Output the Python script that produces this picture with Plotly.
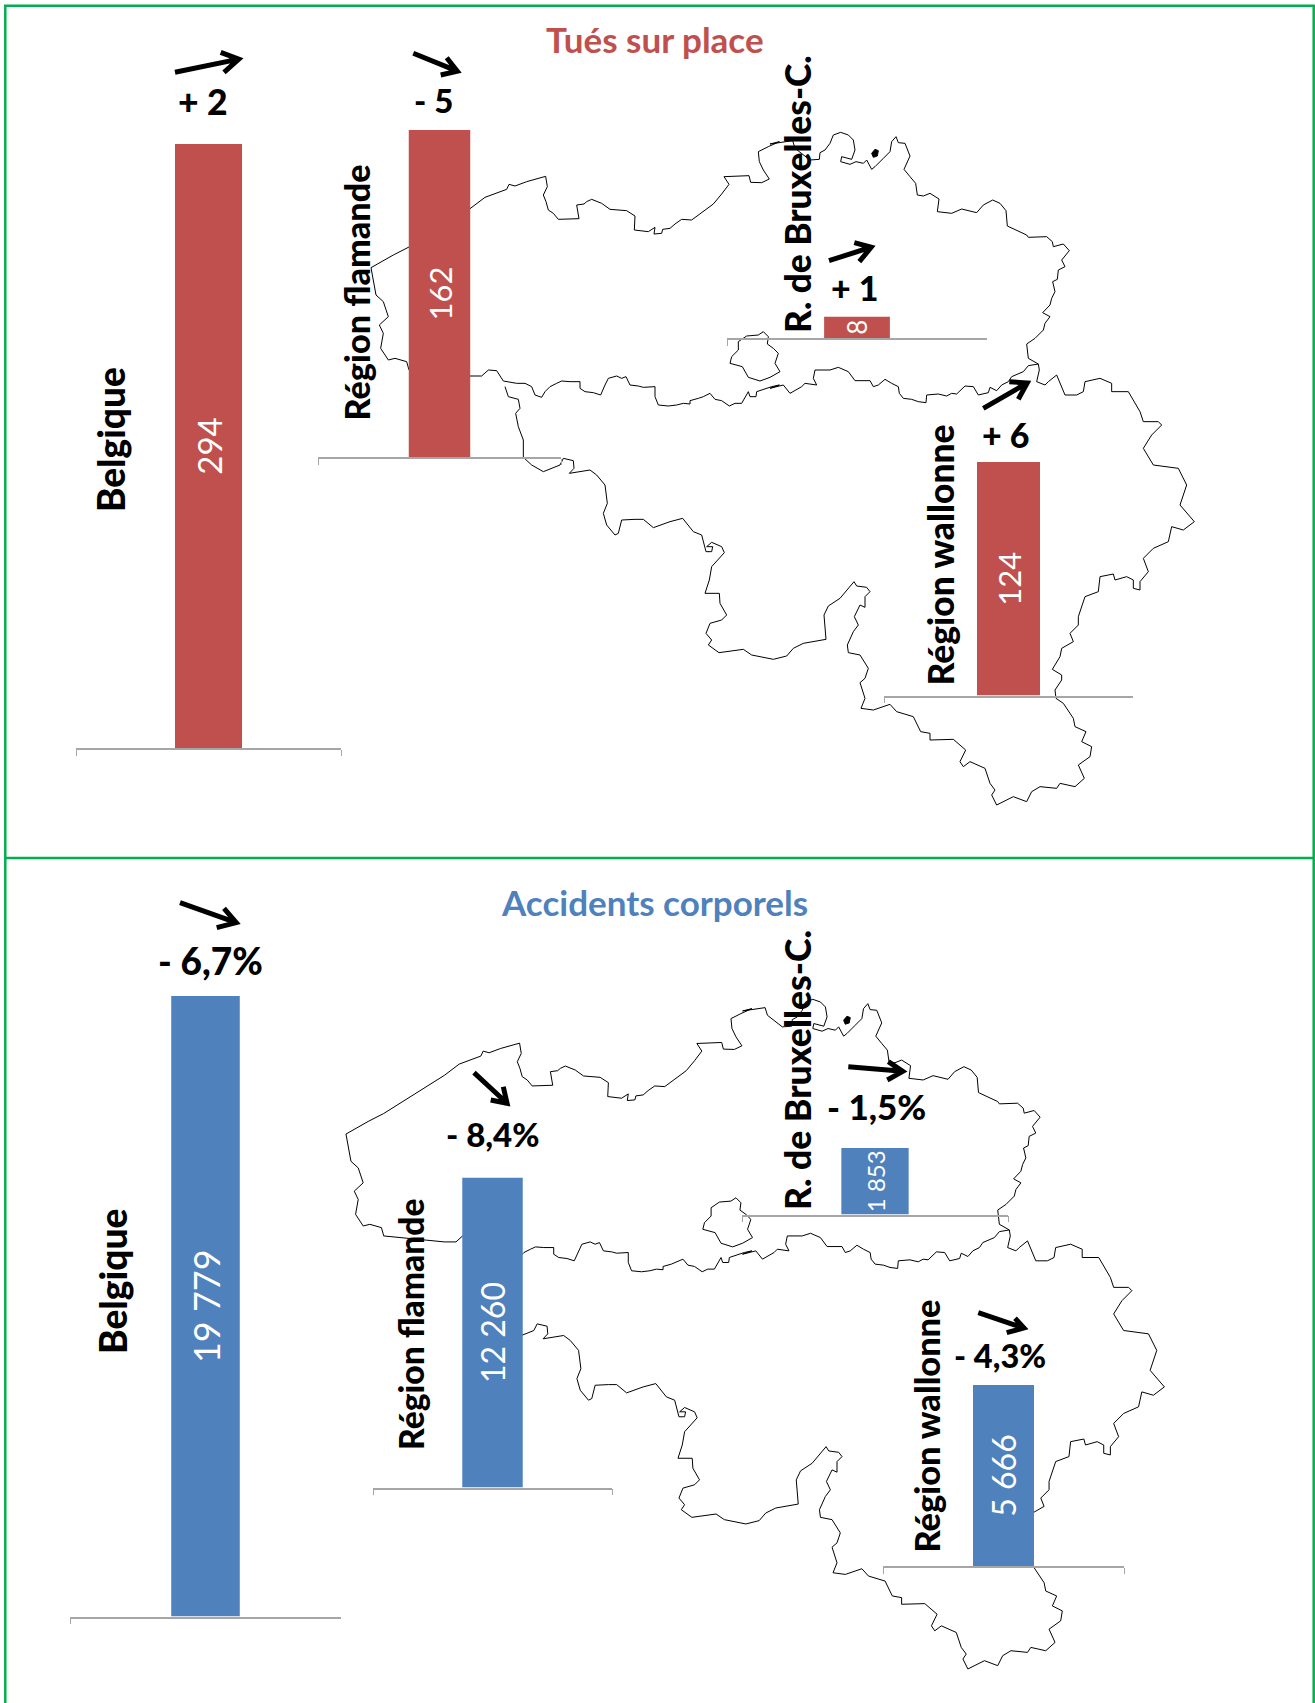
import math
import plotly.graph_objects as go

W, H = 1315, 1703

# ---------- data ----------
REGIONS = ["Belgique", "Région flamande", "R. de Bruxelles-C.", "Région wallonne"]
KILLED = [294, 162, 8, 124]
KILLED_TEXT = ["294", "162", "8", "124"]
KILLED_CHANGE = ["+ 2", "- 5", "+ 1", "+ 6"]
ACCIDENTS = [19779, 12260, 1853, 5666]
ACCIDENTS_TEXT = ["19 779", "12 260", "1 853", "5 666"]
ACCIDENTS_CHANGE = ["- 6,7%", "- 8,4%", "- 1,5%", "- 4,3%"]
TITLE_TOP = "Tués sur place"
TITLE_BOTTOM = "Accidents corporels"

# Outline of Belgium (three sheets, each with its own origin, 3 units = 1 px)
SHEET_A = (360, 120)
SHEET_B = (770, 120)
SHEET_C = (500, 370)
SHEET_D = (800, 370)

NORTH_W = [(33,443),(100,405),(147,381),(330,266),(375,232),(440,208),(447,193),(465,198),(500,185),(557,169),(562,200),
           (550,225),(558,245),(565,270),(580,280),(595,298),(657,296),(650,255),(672,252),(680,245),(695,238),(725,250),(750,268),(800,272),(825,288),(823,330),
           (865,335),(885,322),(882,342),(905,340),(908,328),(930,325),(945,312),(965,298),(995,300),(1030,275),(1060,252),(1085,222),(1107,193),(1092,170),
           (1167,167),(1172,187),(1205,188),(1228,177),(1210,150),(1198,125),(1195,95),(1225,80),(1258,65)]
NORTH_E = [(0,72),(68,62),(75,85),(120,120),(148,118),(150,98),(165,90),(180,70),(190,45),(212,37),(235,45),(250,60),(255,90),(245,118),
           (215,110),(212,125),(240,133),(258,125),(280,130),(290,120),(305,148),(315,140),(340,115),(360,95),(365,65),(378,50),(385,68),
           (405,70),(420,108),(402,148),(420,170),(437,190),(442,225),(460,228),(480,220),(507,237),(502,275),(525,278),(545,280),(575,267),(620,278),
           (640,255),(668,240),(690,250),(708,272),(712,318),(740,332),(770,345),(775,352),(830,350),(847,365),(850,380),(880,372),
           (898,392),(875,420),(885,440),(865,450),(862,478),(848,485),(855,515),(845,535),(840,555),(818,578),(840,590),(825,610),(820,630),
           (795,655),(770,672),(775,715),(805,732)]
BORDER_E = [(805,732),(775,737),(760,755),(725,770),(715,785),(695,795),(680,812),(660,802),(655,818),(625,825),(610,800),
            (585,798),(560,822),(545,820),(530,828),(505,822),(470,825),(468,848),(445,845),(425,838),(400,835),(388,820),
            (385,800),(365,790),(345,778),(325,795),(310,800),(300,782),(255,782),(235,755),(205,742),(180,750),(135,750),
            (130,775),(140,795),(105,790),(95,800),(60,820),(40,795),(0,805)]
BORDER_W = [(1258,795),(1235,800),(1190,815),(1188,830),(1170,830),(1165,815),(1155,835),(1145,850),(1125,850),(1108,858),
            (1085,842),(1065,838),(1050,820),(1030,830),(1015,835),(990,842),(990,852),(970,850),(950,855),(925,858),(895,855),
            (885,830),(885,800),(850,802),(835,798),(810,795),(798,770),(785,775),(770,768),(745,775),(735,795),(722,825),
            (700,818),(675,815),(660,805),(660,785),(630,785),(605,783),(590,790),(570,800),(555,815),(545,832),(525,825),
            (515,800),(495,790),(470,790),(430,783),(410,752),(385,750),(365,768),(330,768),(147,750),(140,725),(105,715),
            (85,720),(62,685),(70,640),(58,615),(85,590),(70,545),(48,525),(33,443)]
WALLONIA_W = [(15,50),(25,80),(55,88),(60,115),(47,130),(55,170),(70,210),(70,262),(95,285),(130,305),(180,285),(190,265),
              (220,272),(222,295),(208,310),(270,300),(290,315),(315,345),(322,400),(310,430),(320,465),(345,495),(355,490),
              (365,450),(405,448),(430,448),(460,473),(510,455),(548,445),(580,485),(605,495),(618,545),(635,545),(638,530),(620,530),
              (635,517),(665,530),(673,548),(635,590),(628,630),(615,670),(658,670),(660,700),(680,735),(665,750),(630,760),
              (618,790),(635,810),(625,825),(657,848),(730,838),(755,855),(820,868),(860,858),(880,835),(910,820),(978,808),
              (972,735),(985,708),(1020,685),(1062,635),(1070,648),(1100,652),(1110,665),(1095,680),(1095,712),(1080,705),
              (1063,740),(1075,765),(1060,785),(1042,825),(1045,848),(1080,855),(1105,895),(1095,925),(1080,938),(1095,985),
              (1085,1012)]
WALLONIA_E = [(183,1015),(220,1020),(270,1003),(290,1025),(340,1040),(362,1085),(390,1090),(390,1110),(460,1108),(497,1140),
              (480,1175),(490,1190),(510,1175),(555,1195),(570,1240),(585,1260),(575,1275),(590,1305),(640,1280),(680,1295),
              (695,1265),(720,1250),(770,1255),(780,1240),(825,1250),(853,1225),(835,1185),(870,1160),(875,1130),(845,1115),
              (858,1085),(825,1070),(820,1045),(790,1000),(768,985),(765,960),(785,930),(785,915),(757,898),(780,860),(785,835),
              (820,815),(810,790),(835,765),(835,740),(855,680),(895,665),(900,620),(940,612),(945,630),(980,620),(1000,630),
              (1000,655),(1020,660),(1020,635),(1045,605),(1030,565),(1060,535),(1105,515),(1115,470),(1150,480),(1183,455),
              (1140,405),(1160,345),(1135,295),(1060,285),(1030,235),(1055,195),(1085,165),(1075,155),(1030,155),(1020,125),
              (985,65),(935,65),(935,40),(900,25),(855,35),(850,65),(830,75),(795,75),(770,15),(745,35),(735,45),(710,35),(718,0)]
BRUSSELS = [(1210,635),(1225,650),(1222,672),(1240,685),(1255,700),(1245,730),(1260,755),(1230,772),(1200,783),
            (1165,772),(1147,740),(1110,730),(1115,710),(1135,690),(1135,665),(1160,648),(1195,645),(1210,635)]
ENCLAVE = [(305,100),(315,88),(325,92),(322,108),(310,112),(305,100)]


def sheet(origin, pts):
    return [(origin[0] + a / 3, origin[1] + b / 3) for a, b in pts]


PATHS = [
    sheet(SHEET_A, NORTH_W) + sheet(SHEET_B, NORTH_E) + sheet(SHEET_B, BORDER_E) + sheet(SHEET_A, BORDER_W),
    sheet(SHEET_C, WALLONIA_W) + sheet(SHEET_D, WALLONIA_E) + sheet(SHEET_B, [(805, 732)]),
    sheet(SHEET_A, BRUSSELS),
]
MAP_X, MAP_Y = [], []
for p in PATHS:
    MAP_X += [q[0] for q in p] + [None]
    MAP_Y += [q[1] for q in p] + [None]
BLOB = sheet(SHEET_B, ENCLAVE)
BLOB_X = [q[0] for q in BLOB]
BLOB_Y = [q[1] for q in BLOB]

# ---------- layout constants (pixels of the page) ----------
RED, BLUE, GREEN = "#C0504D", "#4F81BD", "#00B050"
AXIS_GREY = "#A6A6A6"
HEAD = "Lato"
# left, right, base, top of each small chart
BOXES_TOP = [(76, 341, 748, 144), (318, 561, 457, 130), (727, 987, 338, 316.5), (884, 1133, 695.5, 462)]
BOXES_BOTTOM = [(70, 341, 1616.5, 996), (373, 612, 1487.5, 1177.5), (742, 1008, 1214.5, 1148), (883, 1124, 1566, 1385)]
VAL_SIZE_TOP = [33, 31, 26, 31]
VAL_SIZE_BOTTOM = [36, 32, 24, 32]
LABELS_TOP = [(110, 440, 37), (356, 292.5, 34.2), (797, 194, 35.3), (940, 555.5, 35.4)]
LABELS_BOTTOM = [(112, 1282, 37.2), (411, 1325, 33.6), (797, 1070, 35.6), (926, 1426.5, 34.3)]
CHANGE_TOP = [(203, 101, 35.5), (433, 100, 33), (855, 287, 34), (1006, 434, 34)]
CHANGE_BOTTOM = [(210, 960, 37), (493, 1134, 33), (876, 1106, 35), (1000, 1355, 32.5)]
ARROWS = [
    [(175, 72.3), (242.7, 58.3), (220.7, 52.3), (224, 72.3)],
    [(413.3, 53.3), (461, 72.7), (446.7, 57.7), (440.7, 75)],
    [(829, 260.7), (875, 246), (854.3, 242.7), (859.3, 261.7)],
    [(983.3, 408.3), (1030.7, 381), (1009.3, 381.7), (1018.3, 399.3)],
    [(180, 902.7), (240, 924), (224, 908.3), (216.7, 927.7)],
    [(474, 1072.7), (510, 1106), (503.3, 1086.7), (490.7, 1100)],
    [(848.3, 1066.7), (906.7, 1071.7), (888.3, 1061.7), (887.3, 1080)],
    [(978.3, 1312.7), (1027.7, 1329.3), (1015, 1318.3), (1006.7, 1332.7)],
]

fig = go.Figure()

line = dict(color="black", width=1)
SX, DX, SY, DY = 0.994, -22.8, 0.9955, 867.6
for xa, ya in (("x", "y"), ("x2", "y2")):
    fig.add_trace(go.Scatter(x=MAP_X, y=MAP_Y, mode="lines", line=line, xaxis=xa, yaxis=ya,
                             hoverinfo="skip", showlegend=False))
    fig.add_trace(go.Scatter(x=BLOB_X, y=BLOB_Y, mode="lines", fill="toself", fillcolor="black",
                             line=dict(color="black", width=1), xaxis=xa, yaxis=ya,
                             hoverinfo="skip", showlegend=False))

hidden = dict(visible=False, fixedrange=True)
layout = dict(
    xaxis=dict(range=[0, W], domain=[0, 1], **hidden),
    yaxis=dict(range=[H, 0], domain=[0, 1], **hidden),
    xaxis2=dict(range=[(0 - DX) / SX, (W - DX) / SX], domain=[0, 1], anchor="y2", **hidden),
    yaxis2=dict(range=[(H - DY) / SY, (0 - DY) / SY], domain=[0, 1], anchor="x2", **hidden),
)

panels = [
    (KILLED, KILLED_TEXT, BOXES_TOP, VAL_SIZE_TOP, RED),
    (ACCIDENTS, ACCIDENTS_TEXT, BOXES_BOTTOM, VAL_SIZE_BOTTOM, BLUE),
]
n = 3
for values, texts, boxes, sizes, colour in panels:
    for region, v, t, (l, r, base, top), fs in zip(REGIONS, values, texts, boxes, sizes):
        fig.add_trace(go.Bar(
            x=[region], y=[v], text=[t], textposition="inside", insidetextanchor="middle",
            textangle=-90, constraintext="none", cliponaxis=False,
            textfont=dict(family=HEAD, size=fs, color="white"),
            marker=dict(color=colour, line=dict(width=0)),
            xaxis=f"x{n}", yaxis=f"y{n}", hoverinfo="skip", showlegend=False))
        layout[f"xaxis{n}"] = dict(
            type="category", domain=[l / W, r / W], anchor=f"y{n}", range=[-0.5, 0.5],
            showticklabels=False, ticks="outside", tickson="boundaries", ticklen=6, tickwidth=1,
            tickcolor=AXIS_GREY, showline=True, linecolor=AXIS_GREY, linewidth=1.5,
            showgrid=False, zeroline=False, fixedrange=True)
        layout[f"yaxis{n}"] = dict(domain=[1 - base / H, 1 - top / H], anchor=f"x{n}", range=[0, v], **hidden)
        n += 1

annotations = []


def note(text, x, y, size, colour="black", angle=0, weight=700):
    annotations.append(dict(text=text, x=x, y=y, xref="x", yref="y", showarrow=False,
                            xanchor="center", yanchor="middle", textangle=angle,
                            font=dict(family=HEAD, size=size, color=colour, weight=weight)))


note(TITLE_TOP, 655, 39, 35, RED)
note(TITLE_BOTTOM, 654, 902, 35, BLUE)
for region, (x, y, s) in zip(REGIONS, LABELS_TOP):
    note(region, x, y, s, angle=-90, weight=900)
for region, (x, y, s) in zip(REGIONS, LABELS_BOTTOM):
    note(region, x, y, s, angle=-90, weight=900)
for text, (x, y, s) in zip(KILLED_CHANGE + ACCIDENTS_CHANGE, CHANGE_TOP + CHANGE_BOTTOM):
    note(text, x, y, s, weight=900)

shapes = [
    dict(type="path", xref="x", yref="y", layer="above", line=dict(color=GREEN, width=2.5),
         path="M 5.3 1703 L 5.3 5.7 L 1313.7 5.7 L 1313.7 1703"),
    dict(type="line", xref="x", yref="y", layer="above", line=dict(color=GREEN, width=2.5),
         x0=5.3, x1=1313.7, y0=858, y1=858),
]
for (tail, tip, h1, h2) in ARROWS:
    dx, dy = tip[0] - tail[0], tip[1] - tail[1]
    d = math.hypot(dx, dy)
    tx, ty = tip[0] - 4 * dx / d, tip[1] - 4 * dy / d
    shapes.append(dict(type="path", xref="x", yref="y", layer="above", line=dict(color="black", width=5),
                       path=f"M {tail[0]} {tail[1]} L {tx} {ty} M {h1[0]} {h1[1]} L {tx} {ty} L {h2[0]} {h2[1]}"))

fig.update_layout(
    width=W, height=H, margin=dict(l=0, r=0, t=0, b=0, pad=0), autosize=False,
    paper_bgcolor="white", plot_bgcolor="rgba(0,0,0,0)", showlegend=False,
    bargap=0.747, annotations=annotations, shapes=shapes, **layout)

fig.write_html("out.html", config=dict(displayModeBar=False),
               post_script="document.body.style.margin='0';")
